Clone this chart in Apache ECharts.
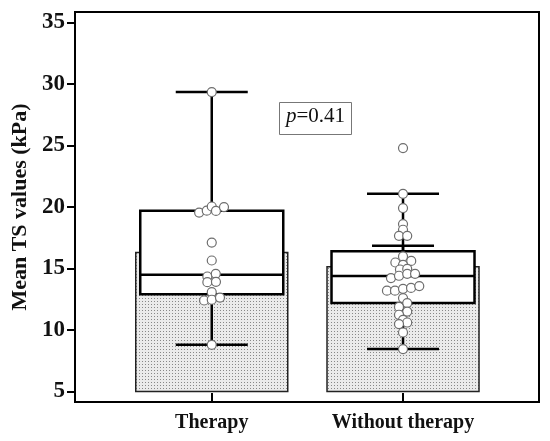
<!DOCTYPE html>
<html>
<head>
<meta charset="utf-8">
<script src="https://cdn.jsdelivr.net/npm/echarts@6/dist/echarts.min.js"></script>
<style>
  html, body { margin: 0; padding: 0; background: #fff; }
  #tsChart { width: 550px; height: 441px; }
</style>
</head>
<body>
<div id="tsChart"></div>
<script>
// groups on the x axis (placed at 1 and 2)
var categories = ['Therapy', 'Without therapy']
var yTicks = [5, 10, 15, 20, 25, 30, 35]

// mean bars (start at 5) with upper error value
var barBase = 5
var meanValues = [16.3, 15.15]
var errUpper = [18.0, 16.85]

// box plot: [lower whisker, Q1, median, Q3, upper whisker]
var boxTherapy = [8.8, 12.9, 14.5, 19.7, 29.35]
var boxWithout = [8.45, 12.2, 14.4, 16.4, 21.07]

// individual measurements and their horizontal jitter
var ptsTherapy = [29.34, 19.55, 19.7, 20.04, 19.68, 19.99, 17.11, 15.65, 14.35, 14.57,
    13.89, 13.92, 13.08, 12.4, 12.46, 12.64, 8.8]
var jitTherapy = [0, -0.066, -0.026, 0, 0.022, 0.064, 0, 0, -0.023, 0.021,
    -0.023, 0.022, 0, -0.040, 0, 0.043, 0]
var ptsWithout = [24.79, 21.07, 19.91, 18.61, 18.15, 17.66, 17.66, 15.98, 15.49, 15.62,
    15.3, 14.92, 14.97, 14.22, 14.41, 14.57, 14.57, 13.2, 13.2, 13.35,
    13.42, 13.57, 12.6, 12.19, 11.88, 11.5, 11.24, 10.83, 10.61, 10.48,
    9.8, 8.45]
var jitWithout = [0, 0, 0, 0, 0, -0.021, 0.022, 0, -0.040, 0.043,
    0, -0.016, 0.022, -0.063, -0.021, 0.022, 0.063, -0.084, -0.042, 0,
    0.042, 0.085, 0, 0.022, -0.021, 0.022, -0.021, 0, 0.022, -0.021,
    0, 0]
var pText = '0.41'

var serif = 'Liberation Serif'

function stipple() {
    var c = document.createElement('canvas')
    c.width = 3
    c.height = 3
    var g = c.getContext('2d')
    g.fillStyle = '#ebebeb'
    g.fillRect(0, 0, 3, 3)
    g.fillStyle = '#888888'
    g.fillRect(1, 1, 1, 1)
    return c
}
var dotFill = { image: stipple(), repeat: 'repeat' }

function drawTS() {
    var chart = echarts.init(document.getElementById('tsChart'))

    var barData = meanValues.map(function(m, i) { return [i + 1, m, errUpper[i]] })
    var boxData = [boxTherapy, boxWithout].map(function(b, i) { return [i + 1].concat(b) })
    var points = []
    ptsTherapy.forEach(function(v, i) { points.push([1 + jitTherapy[i], v]) })
    ptsWithout.forEach(function(v, i) { points.push([2 + jitWithout[i], v]) })

    var option = {
        animation: false,
        grid: {
            left: 75,
            right: 11,
            top: 12,
            bottom: 39,
            show: true,
            borderColor: '#000',
            borderWidth: 2
        },
        xAxis: {
            type: 'value',
            min: 0.285,
            max: 2.711,
            splitLine: { show: false },
            axisLine: { show: true, lineStyle: { color: '#000', width: 2 } },
            axisTick: {
                show: true,
                inside: true,
                length: 9,
                customValues: [1, 2],
                lineStyle: { color: '#000', width: 2 }
            },
            axisLabel: {
                customValues: [1, 2],
                margin: 11,
                formatter: function(v) { return categories[Math.round(v) - 1] || '' },
                fontFamily: serif,
                fontWeight: 'bold',
                fontSize: 20,
                color: '#111'
            }
        },
        yAxis: {
            type: 'value',
            min: 4.15,
            max: 35.85,
            name: 'Mean TS values (kPa)',
            nameLocation: 'middle',
            nameGap: 44,
            nameTextStyle: {
                fontFamily: serif,
                fontWeight: 'bold',
                fontSize: 22,
                color: '#111'
            },
            splitLine: { show: false },
            axisLine: { show: true, lineStyle: { color: '#000', width: 2 } },
            axisTick: {
                show: true,
                length: 8,
                customValues: yTicks,
                lineStyle: { color: '#000', width: 2 }
            },
            axisLabel: {
                customValues: yTicks,
                margin: 10,
                fontFamily: serif,
                fontWeight: 'bold',
                fontSize: 23,
                color: '#111'
            }
        },
        graphic: [
            {
                type: 'rect',
                left: 279,
                top: 102,
                shape: { width: 72, height: 32 },
                style: { fill: '#fff', stroke: '#777', lineWidth: 1 },
                z: 20
            },
            {
                type: 'text',
                left: 286,
                top: 106,
                style: {
                    text: '{i|p}{n|=' + pText + '}',
                    rich: {
                        i: { fontFamily: serif, fontStyle: 'italic', fontSize: 21, fill: '#111' },
                        n: { fontFamily: serif, fontSize: 21, fill: '#111' }
                    }
                },
                z: 21
            }
        ],
        series: [
            {
                type: 'custom',
                z: 2,
                renderItem: function(params, api) {
                    var base = api.coord([api.value(0), barBase])
                    var top = api.coord([api.value(0), api.value(1)])
                    var e = api.coord([api.value(0), api.value(2)])
                    return {
                        type: 'group',
                        children: [
                            {
                                type: 'rect',
                                shape: { x: base[0] - 76, y: top[1], width: 152, height: base[1] - top[1] },
                                style: { fill: dotFill, stroke: '#222', lineWidth: 1.5 }
                            },
                            {
                                type: 'line',
                                shape: { x1: top[0], y1: top[1], x2: e[0], y2: e[1] },
                                style: { stroke: '#000', lineWidth: 2.5 }
                            },
                            {
                                type: 'line',
                                shape: { x1: e[0] - 31, y1: e[1], x2: e[0] + 31, y2: e[1] },
                                style: { stroke: '#000', lineWidth: 2.5 }
                            }
                        ]
                    }
                },
                data: barData
            },
            {
                type: 'custom',
                z: 3,
                renderItem: function(params, api) {
                    var x = api.value(0)
                    var lo = api.coord([x, api.value(1)])
                    var q1 = api.coord([x, api.value(2)])
                    var md = api.coord([x, api.value(3)])
                    var q3 = api.coord([x, api.value(4)])
                    var hi = api.coord([x, api.value(5)])
                    var cx = q1[0]
                    var st = { stroke: '#000', lineWidth: 2.5 }
                    return {
                        type: 'group',
                        children: [
                            { type: 'line', shape: { x1: cx, y1: q3[1], x2: cx, y2: hi[1] }, style: st },
                            { type: 'line', shape: { x1: cx, y1: q1[1], x2: cx, y2: lo[1] }, style: st },
                            { type: 'line', shape: { x1: cx - 36, y1: hi[1], x2: cx + 36, y2: hi[1] }, style: st },
                            { type: 'line', shape: { x1: cx - 36, y1: lo[1], x2: cx + 36, y2: lo[1] }, style: st },
                            {
                                type: 'rect',
                                shape: { x: cx - 71.5, y: q3[1], width: 143, height: q1[1] - q3[1] },
                                style: { fill: '#fff', stroke: '#000', lineWidth: 2.5 }
                            },
                            { type: 'line', shape: { x1: cx - 71.5, y1: md[1], x2: cx + 71.5, y2: md[1] }, style: st }
                        ]
                    }
                },
                data: boxData
            },
            {
                type: 'scatter',
                z: 5,
                symbol: 'circle',
                symbolSize: 9,
                itemStyle: { color: '#fff', borderColor: '#6e6e6e', borderWidth: 1.2, opacity: 1 },
                data: points
            }
        ]
    }
    chart.setOption(option)
}
drawTS()
</script>
</body>
</html>
